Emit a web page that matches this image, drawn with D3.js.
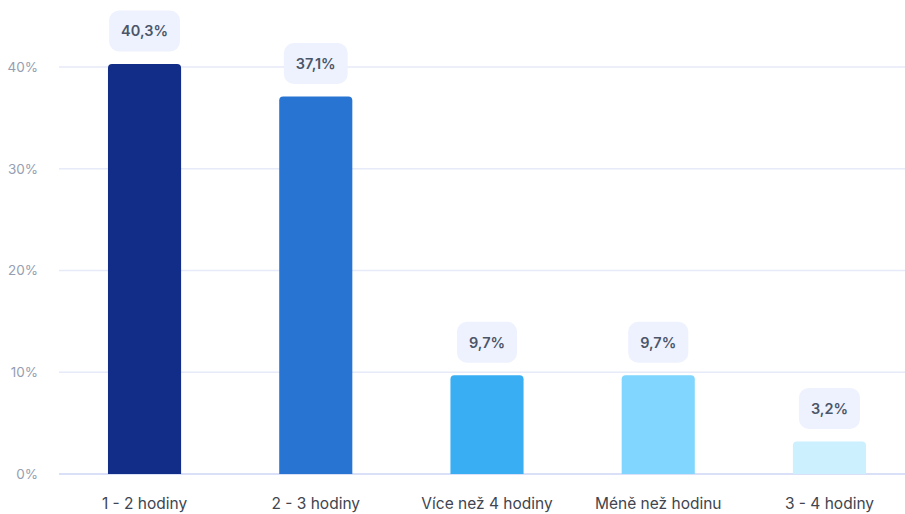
<!DOCTYPE html>
<html>
<head>
<meta charset="utf-8">
<script src="https://cdn.jsdelivr.net/npm/d3@7"></script>
<style>
  html, body { margin: 0; padding: 0; background: #fff; }
  svg { display: block; font-family: Inter, "Noto Sans", sans-serif; }
</style>
</head>
<body>
<svg id="chart" width="905" height="514"></svg>
<script>
// Time spent per day — share of respondents
const categories = ["1 - 2 hodiny", "2 - 3 hodiny", "Více než 4 hodiny", "Méně než hodinu", "3 - 4 hodiny"];
const values = [40.3, 37.1, 9.7, 9.7, 3.2];
const barColors = ["#122d87", "#2874d3", "#3aaef3", "#80d6fe", "#ccf0fe"];
const yTicks = [0, 10, 20, 30, 40];

const svg = d3.select("#chart");
const W = 905, H = 514;
const left = 59, baseY = 474, topY = 67;

const x = d3.scaleBand().domain(categories).range([left, 915]).paddingInner(0.573).paddingOuter(0.286);
const y = d3.scaleLinear().domain([0, 40]).range([baseY, topY]);

const fmt = v => d3.format(".1f")(v).replace(".", ",") + "%";

// grid lines
svg.append("g").selectAll("line").data(yTicks).join("line")
  .attr("x1", left).attr("x2", W)
  .attr("y1", d => y(d)).attr("y2", d => y(d))
  .attr("stroke", d => d === 0 ? "#cdd6f6" : "#e6eaf9")
  .attr("stroke-width", d => d === 0 ? 1.6 : 1.4);

// y axis labels
const yAxis = svg.append("g").attr("transform", `translate(38,0)`)
  .call(d3.axisLeft(y).tickValues(yTicks).tickSize(0).tickPadding(0).tickFormat(d => d + "%"));
yAxis.select(".domain").remove();
yAxis.selectAll("text").attr("font-size", 13.5).attr("fill", "#959eb1").attr("font-family", "Inter, sans-serif");

// x axis labels
const xAxis = svg.append("g").attr("transform", `translate(0,${baseY})`)
  .call(d3.axisBottom(x).tickSize(0).tickPadding(24));
xAxis.select(".domain").remove();
xAxis.selectAll("text").attr("font-size", 15.5).attr("fill", "#40454f").attr("font-family", "Inter, sans-serif");

// bars with rounded top corners
const r = 4;
function barPath(d, i) {
  const x0 = x(categories[i]), w = x.bandwidth();
  const yt = y(d), yb = y(0);
  return `M${x0},${yb}V${yt + r}Q${x0},${yt} ${x0 + r},${yt}H${x0 + w - r}Q${x0 + w},${yt} ${x0 + w},${yt + r}V${yb}Z`;
}
svg.append("g").selectAll("path").data(values).join("path")
  .attr("d", (d, i) => barPath(d, i))
  .attr("fill", (d, i) => barColors[i]);

// value badges above bars
const badge = svg.append("g").selectAll("g").data(values).join("g")
  .attr("transform", (d, i) => `translate(${x(categories[i]) + x.bandwidth() / 2},${y(d) - 33})`);
const rects = badge.append("rect").attr("y", -20.5).attr("height", 41).attr("rx", 10)
  .attr("fill", "#eef2fe");
const labels = badge.append("text")
  .attr("text-anchor", "middle").attr("dy", "0.36em")
  .attr("font-size", 14.5).attr("font-weight", 600).attr("fill", "#4b5568")
  .text(d => fmt(d));
labels.each(function (d, i) {
  const w = this.getComputedTextLength() + 24;
  d3.select(rects.nodes()[i]).attr("x", -w / 2).attr("width", w);
});
</script>
</body>
</html>
